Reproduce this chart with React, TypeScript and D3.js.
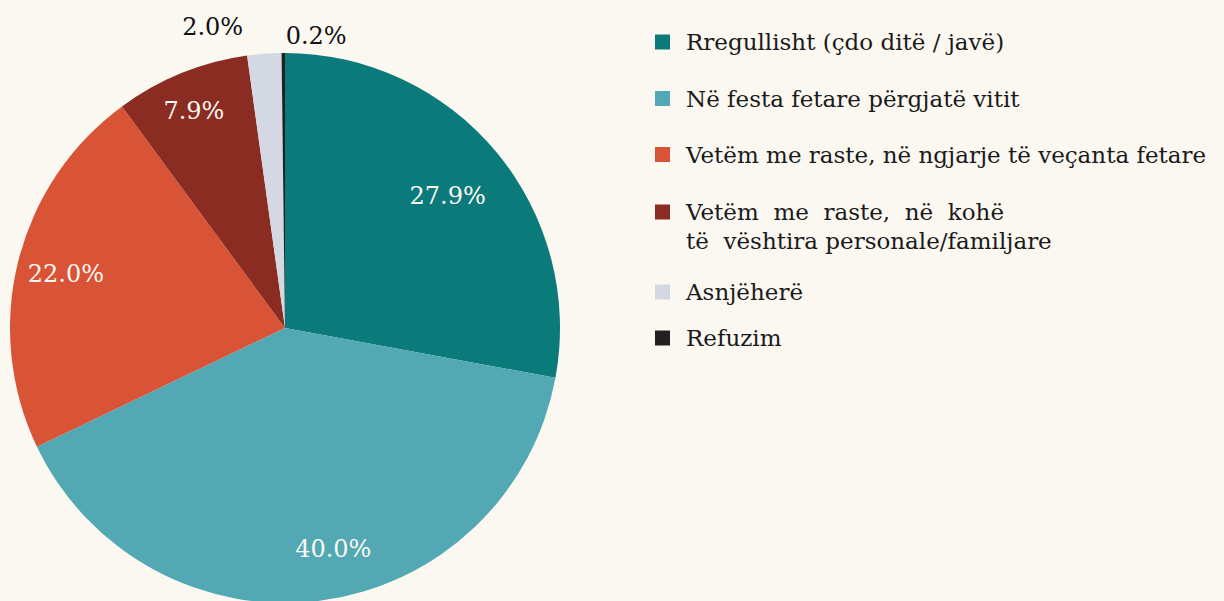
import React from "react";
import * as d3 from "d3";

const categories = [
  "Rregullisht (çdo ditë / javë)",
  "Në festa fetare përgjatë vitit",
  "Vetëm me raste, në ngjarje të veçanta fetare",
  "Vetëm  me  raste,  në  kohë\ntë  vështira personale/familjare",
  "Asnjëherë",
  "Refuzim",
];
const values = [27.9, 40.0, 22.0, 7.9, 2.0, 0.2];
const colors = ["#0b7a7a", "#52a8b3", "#d95336", "#8a2c21", "#d4d8e3", "#231f20"];
const labelColors = ["#fbf8f1", "#fbf8f1", "#fbf8f1", "#fbf8f1", "#111", "#111"];
// label placement: radius factor and small nudges
const labelRadius = [0.76, 0.81, 0.81, 0.86, 1.08, 1.07];
const labelNudgeX = [2, 19, -3, -2, -50, 33];
const labelNudgeY = [2, 0, 0, 2, -5, 2];

const W = 1224;
const H = 601;
const cx = 285;
const cy = 328;
const R = 275;
const FONT = "'DejaVu Serif', 'Liberation Serif', serif";

export default function App() {
  const pie = d3.pie<number>().sort(null).value((d) => d).startAngle(0).endAngle(2 * Math.PI);
  const arcs = pie(values);
  const arc = d3.arc<d3.PieArcDatum<number>>().innerRadius(0).outerRadius(R);

  const legendX = 655;
  const legendY = [42, 98.5, 154.5, 212, 292, 338];

  return (
    <div style={{ position: "fixed", left: 0, top: 0 }}>
      <svg width={W} height={H} style={{ display: "block", background: "#fbf8f1" }}>
        <rect x={0} y={0} width={W} height={H} fill="#fbf8f1" />
        <g transform={`translate(${cx},${cy})`}>
          {arcs.map((a, i) => (
            <path key={i} d={arc(a) || ""} fill={colors[i]} />
          ))}
          {arcs.map((a, i) => {
            const mid = (a.startAngle + a.endAngle) / 2;
            const r = R * labelRadius[i];
            const x = Math.sin(mid) * r + labelNudgeX[i];
            const y = -Math.cos(mid) * r + labelNudgeY[i];
            return (
              <text
                key={i}
                x={x}
                y={y}
                textAnchor="middle"
                dominantBaseline="central"
                fontFamily={FONT}
                fontSize={24}
                fill={labelColors[i]}
              >
                {values[i].toFixed(1)}%
              </text>
            );
          })}
        </g>
        <g fontFamily={FONT} fontSize={23} fill="#1a1a1a">
          {categories.map((c, i) => {
            const lines = c.split("\n");
            return (
              <g key={i}>
                <rect x={legendX} y={legendY[i] - 7.5} width={15} height={15} fill={colors[i]} />
                <text x={686} y={legendY[i] + 8} style={{ whiteSpace: "pre" }}>
                  {lines.map((l, j) => (
                    <tspan key={j} x={686} dy={j === 0 ? 0 : 29}>
                      {l}
                    </tspan>
                  ))}
                </text>
              </g>
            );
          })}
        </g>
      </svg>
    </div>
  );
}
